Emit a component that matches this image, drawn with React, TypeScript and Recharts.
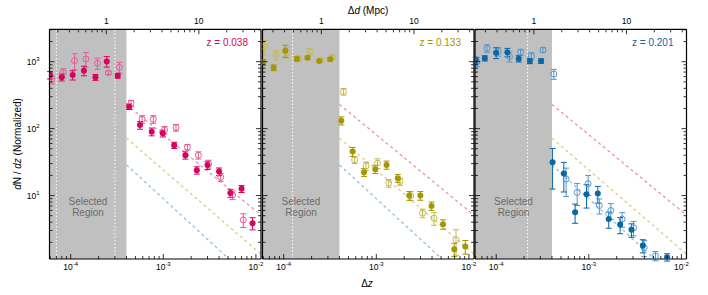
import React from "react";
import {
  ComposedChart,
  ErrorBar,
  Line,
  ReferenceArea,
  ReferenceLine,
  Scatter,
  XAxis,
  YAxis,
} from "recharts";

// shared axis ranges (Δz and dN/dz)
const X_DOMAIN = [5.9e-5, 1.135e-2];
const Y_DOMAIN = [1.127, 3048];
const SELECT_MAX = 4e-4;

// z = 0.038
const z038FilledX = [5.98e-5, 8.0e-5, 1.05e-4, 1.39e-4, 1.85e-4, 2.45e-4, 3.22e-4, 4.27e-4, 5.6e-4, 7.5e-4, 9.85e-4, 1.31e-3, 1.73e-3, 2.3e-3, 3.0e-3, 4.0e-3, 5.3e-3, 7.0e-3, 9.2e-3];
const z038FilledY = [632, 585, 632, 735, 585, 1010, 618, 213, 113, 90, 85, 56.5, 40, 23.9, 28.5, 22.8, 10.9, 12.6, 3.87];
const z038FilledErr = [80, 70, 100, 120, 60, 180, 50, 20, 15, 12, 10, 6, 5, 3, 4, 3, 1.5, 1.5, 0.8];
const z038OpenX = [6.24e-5, 8.3e-5, 1.1e-4, 1.46e-4, 1.94e-4, 2.55e-4, 3.35e-4, 4.48e-4, 5.9e-4, 7.8e-4, 1.03e-3, 1.37e-3, 1.82e-3, 2.39e-3, 3.09e-3, 4.17e-3, 5.6e-3, 7.3e-3];
const z038OpenY = [546, 685, 1035, 1097, 946, 685, 825, 239, 138, 138, 95.7, 103.5, 52.7, 40, 29.7, 18.8, 10.2, 4.33];
const z038OpenErr = [80, 100, 280, 270, 180, 40, 150, 25, 18, 18, 12, 12, 5, 5, 4, 2.5, 1.5, 1.0];
const z038Dividers = [7.0e-5, 3.0e-4];

// z = 0.133
const z133FilledX = [6.0e-5, 7.78e-5, 1.04e-4, 1.39e-4, 1.81e-4, 2.42e-4, 3.18e-4, 4.19e-4, 5.55e-4, 7.36e-4, 9.75e-4, 1.29e-3, 1.71e-3, 2.27e-3, 2.99e-3, 3.95e-3, 5.25e-3, 6.95e-3, 9.14e-3];
const z133FilledY = [980, 813, 1459, 1097, 1147, 1024, 1086, 131.6, 45.4, 22.3, 24.8, 28.7, 18.2, 10, 10, 7.0, 3.74, 1.58, 1.73];
const z133FilledErr = [100, 80, 300, 80, 60, 50, 60, 18, 7, 3, 3.5, 4, 2.5, 1.5, 1.5, 1, 0.6, 0.35, 0.4];
const z133OpenX = [6.18e-5, 8.26e-5, 1.09e-4, 1.45e-4, 1.91e-4, 2.53e-4, 3.35e-4, 4.43e-4, 5.83e-4, 7.74e-4, 1.03e-3, 1.36e-3, 1.8e-3, 2.35e-3, 3.16e-3, 4.2e-3, 7.26e-3];
const z133OpenY = [1675, 1259, 1381, 1124, 1410, 1060, 1163, 357, 34.1, 27.7, 30.4, 15.3, 16.2, 9.9, 5.46, 4.6, 2.18];
const z133OpenErr = [400, 200, 250, 80, 150, 60, 60, 40, 4, 4, 5, 2, 2, 1.5, 0.8, 1.0, 0.9];
const z133Dividers = [1.25e-4];

// z = 0.201
const z201FilledX = [6.0e-5, 7.53e-5, 9.97e-5, 1.32e-4, 1.75e-4, 2.31e-4, 3.05e-4, 4.06e-4, 5.37e-4, 7.11e-4, 9.44e-4, 1.25e-3, 1.64e-3, 2.18e-3, 2.89e-3, 3.83e-3, 7.0e-3];
const z201FilledY = [1050, 1124, 1362, 1381, 1109, 1024, 1024, 31.5, 21.3, 5.65, 10.5, 10.7, 4.45, 3.69, 3.08, 1.79, 1.2];
const z201FilledErr = [120, 100, 250, 200, 120, 90, 80, 19, 10, 1.8, 4, 3, 1.2, 1.0, 0.7, 0.4, 0.15];
const z201OpenX = [6.2e-5, 7.97e-5, 1.05e-4, 1.39e-4, 1.83e-4, 2.4e-4, 3.2e-4, 4.19e-4, 5.69e-4, 7.48e-4, 9.83e-4, 1.3e-3, 1.73e-3, 2.29e-3, 3.04e-3, 3.96e-3, 5.25e-3];
const z201OpenY = [1000, 1585, 1410, 1188, 1381, 1216, 1496, 655, 17.7, 11.1, 15.0, 7.1, 5.97, 4.45, 3.3, 1.67, 1.26];
const z201OpenErr = [150, 200, 200, 200, 150, 150, 120, 110, 8, 4, 5, 1.8, 1.6, 1.1, 0.8, 0.45, 0.2];
const z201Dividers = [2.18e-4];

// power-law guides, same in every panel
const guideX = [4e-4, 1.135e-2];
const guide038 = [230, 5.1];
const guide133 = [72, 1.33];
const guide201 = [28.7, 0.41];

// Δz per Mpc for the top axis
const mpcUnit = [2.42e-4, 2.55e-4, 2.55e-4];
const zLabels = ["0.038", "0.133", "0.201"];

const FONT = "'Liberation Sans', Arial, Helvetica, sans-serif";
const PINK = "#d6045f";
const PINK_OPEN = "#e35d97";
const OLIVE = "#a69700";
const OLIVE_OPEN = "#c4b94f";
const BLUE = "#0a67a6";
const BLUE_OPEN = "#5597cc";
const TOP = 29.3;
const BOTTOM = 259;

type Pt = { x: number; y: number; e: number };
const pts = (xs: number[], ys: number[], es: number[]): Pt[] =>
  xs.map((x, i) => ({ x, y: ys[i], e: es[i] }));
const guide = (ys: number[]) => guideX.map((x, i) => ({ x, y: ys[i] }));

function logTicks(lo: number, hi: number, unit = 1) {
  const out: number[] = [];
  for (let e = -6; e <= 3; e++)
    for (let m = 1; m <= 9; m++) {
      const v = m * Math.pow(10, e) * unit;
      if (v >= lo && v <= hi) out.push(v);
    }
  return out;
}
const isDecade = (v: number) => {
  const l = Math.log10(v);
  return Math.abs(l - Math.round(l)) < 1e-6;
};

const xTicks = logTicks(X_DOMAIN[0], X_DOMAIN[1]);
const yTicks = logTicks(Y_DOMAIN[0], Y_DOMAIN[1]);
const AX = { stroke: "#000", strokeWidth: 1.2 };

const BottomTick = (p: any) => {
  const v = p.payload.value;
  const major = isDecade(v);
  return (
    <g>
      <line x1={p.x} x2={p.x} y1={p.y} y2={p.y - (major ? 5 : 3)} stroke="#000" strokeWidth={0.8} />
      {major && (
        <text x={p.x} y={p.y + 11} textAnchor="middle" fontSize={8.5} fontFamily={FONT} fill="#000">
          10<tspan dy={-4} fontSize={6}>{Math.round(Math.log10(v))}</tspan>
        </text>
      )}
    </g>
  );
};

const topTick = (k: number) => (p: any) => {
  const mpc = p.payload.value / k;
  const major = isDecade(mpc);
  return (
    <g>
      <line x1={p.x} x2={p.x} y1={p.y} y2={p.y + (major ? 5 : 3)} stroke="#000" strokeWidth={0.8} />
      {major && (
        <text x={p.x} y={p.y - 5} textAnchor="middle" fontSize={8.5} fontFamily={FONT} fill="#000">
          {Math.round(mpc)}
        </text>
      )}
    </g>
  );
};

const leftTick = (labels: boolean) => (p: any) => {
  const v = p.payload.value;
  const major = isDecade(v);
  return (
    <g>
      <line x1={p.x} x2={p.x + (major ? 5 : 3)} y1={p.y} y2={p.y} stroke="#000" strokeWidth={0.8} />
      {labels && major && (
        <text x={p.x - 10} y={p.y + 3} textAnchor="end" fontSize={8.5} fontFamily={FONT} fill="#000">
          10<tspan dy={-4} fontSize={6}>{Math.round(Math.log10(v))}</tspan>
        </text>
      )}
    </g>
  );
};

const RightTick = (p: any) => {
  const major = isDecade(p.payload.value);
  return <line x1={p.x} x2={p.x - (major ? 5 : 3)} y1={p.y} y2={p.y} stroke="#000" strokeWidth={0.8} />;
};

const SelectedLabel = (props: any) => {
  const vb = props.viewBox;
  const cx = vb.x + vb.width / 2;
  const by = vb.y + vb.height;
  return (
    <text textAnchor="middle" fontSize={10} fontFamily={FONT} fill="#6b6b6b">
      <tspan x={cx} y={by - 54}>Selected</tspan>
      <tspan x={cx} y={by - 43}>Region</tspan>
    </text>
  );
};

const dot = (color: string, hollow: boolean) => (p: any) =>
  hollow ? (
    <circle cx={p.cx} cy={p.cy} r={3} fill="none" stroke={color} strokeWidth={1} />
  ) : (
    <circle cx={p.cx} cy={p.cy} r={3} fill={color} />
  );

const guides = [
  { data: guide(guide038), color: "#ea90b6" },
  { data: guide(guide133), color: "#d8cf84" },
  { data: guide(guide201), color: "#8fc1e4" },
];

const panels = [
  { left: 49.5, right: 261, color: PINK, openColor: PINK_OPEN, filled: pts(z038FilledX, z038FilledY, z038FilledErr), open: pts(z038OpenX, z038OpenY, z038OpenErr), dividers: z038Dividers, yLabels: true },
  { left: 262.5, right: 474, color: OLIVE, openColor: OLIVE_OPEN, filled: pts(z133FilledX, z133FilledY, z133FilledErr), open: pts(z133OpenX, z133OpenY, z133OpenErr), dividers: z133Dividers, yLabels: false },
  { left: 475, right: 686.5, color: BLUE, openColor: BLUE_OPEN, filled: pts(z201FilledX, z201FilledY, z201FilledErr), open: pts(z201OpenX, z201OpenY, z201OpenErr), dividers: z201Dividers, yLabels: false },
];

function Panel({ idx }: { idx: number }) {
  const p = panels[idx];
  const k = mpcUnit[idx];
  return (
    <div style={{ position: "absolute", left: 0, top: 0 }}>
      <ComposedChart
        width={708}
        height={295}
        margin={{ top: TOP - 20, bottom: 295 - BOTTOM - 20, left: p.left - 20, right: 708 - p.right - 20 }}
      >
        <XAxis xAxisId="b" dataKey="x" type="number" scale="log" domain={X_DOMAIN} allowDataOverflow
          ticks={xTicks} interval={0} tick={BottomTick} tickSize={0} tickMargin={0} tickLine={false} axisLine={AX} height={20} />
        <XAxis xAxisId="t" orientation="top" dataKey="x" type="number" scale="log" domain={X_DOMAIN} allowDataOverflow
          ticks={logTicks(X_DOMAIN[0], X_DOMAIN[1], k)} interval={0} tick={topTick(k)} tickSize={0} tickMargin={0} tickLine={false} axisLine={AX} height={20} />
        <YAxis yAxisId="l" dataKey="y" type="number" scale="log" domain={Y_DOMAIN} allowDataOverflow
          ticks={yTicks} interval={0} tick={leftTick(p.yLabels)} tickSize={0} tickMargin={0} tickLine={false} axisLine={AX} width={20} />
        <YAxis yAxisId="r" orientation="right" dataKey="y" type="number" scale="log" domain={Y_DOMAIN} allowDataOverflow
          ticks={yTicks} interval={0} tick={RightTick} tickSize={0} tickMargin={0} tickLine={false} axisLine={AX} width={20} />

        <ReferenceArea xAxisId="b" yAxisId="l" x1={X_DOMAIN[0]} x2={SELECT_MAX} fill="#c0c0c0" fillOpacity={1}
          stroke="none" label={<SelectedLabel />} />
        {p.dividers.map((d) => (
          <ReferenceLine key={d} xAxisId="b" yAxisId="l" x={d} stroke="#ffffff" strokeWidth={1} strokeDasharray="1.5 2" />
        ))}

        {guides.map((g, i) => (
          <Line key={i} xAxisId="t" yAxisId="r" data={g.data} dataKey="y" stroke={g.color} strokeWidth={1.3}
            strokeDasharray="3 3" dot={false} activeDot={false} isAnimationActive={false} />
        ))}

        <Scatter xAxisId="b" yAxisId="l" data={p.open} dataKey="y" shape={dot(p.openColor, true)} isAnimationActive={false}>
          <ErrorBar dataKey="e" direction="y" width={3} stroke={p.openColor} strokeWidth={1} />
        </Scatter>
        <Scatter xAxisId="b" yAxisId="l" data={p.filled} dataKey="y" shape={dot(p.color, false)} isAnimationActive={false}>
          <ErrorBar dataKey="e" direction="y" width={3} stroke={p.color} strokeWidth={1} />
        </Scatter>
      </ComposedChart>
    </div>
  );
}

export default function App() {
  return (
    <div style={{ position: "absolute", left: 0, top: 0, width: 708, height: 295, background: "#fff", fontFamily: FONT }}>
      <Panel idx={0} />
      <Panel idx={1} />
      <Panel idx={2} />
      <svg width={708} height={295} style={{ position: "absolute", left: 0, top: 0, pointerEvents: "none" }}>
        {panels.map((p, i) => (
          <text key={i} x={p.right - 13} y={46} textAnchor="end" fontSize={10} fontFamily={FONT} fill={p.color}>
            z  = {zLabels[i]}
          </text>
        ))}
        <text x={368} y={13.5} textAnchor="middle" fontSize={10} fontFamily={FONT} fill="#000">
          Δ<tspan fontStyle="italic">d</tspan> (Mpc)
        </text>
        <text x={367} y={287} textAnchor="middle" fontSize={10} fontFamily={FONT} fill="#000">
          Δ<tspan fontStyle="italic">z</tspan>
        </text>
        <text transform="translate(21,144) rotate(-90)" textAnchor="middle" fontSize={10} fontFamily={FONT} fill="#000">
          <tspan fontStyle="italic">d</tspan>N / <tspan fontStyle="italic">dz</tspan> (Normalized)
        </text>
      </svg>
    </div>
  );
}
